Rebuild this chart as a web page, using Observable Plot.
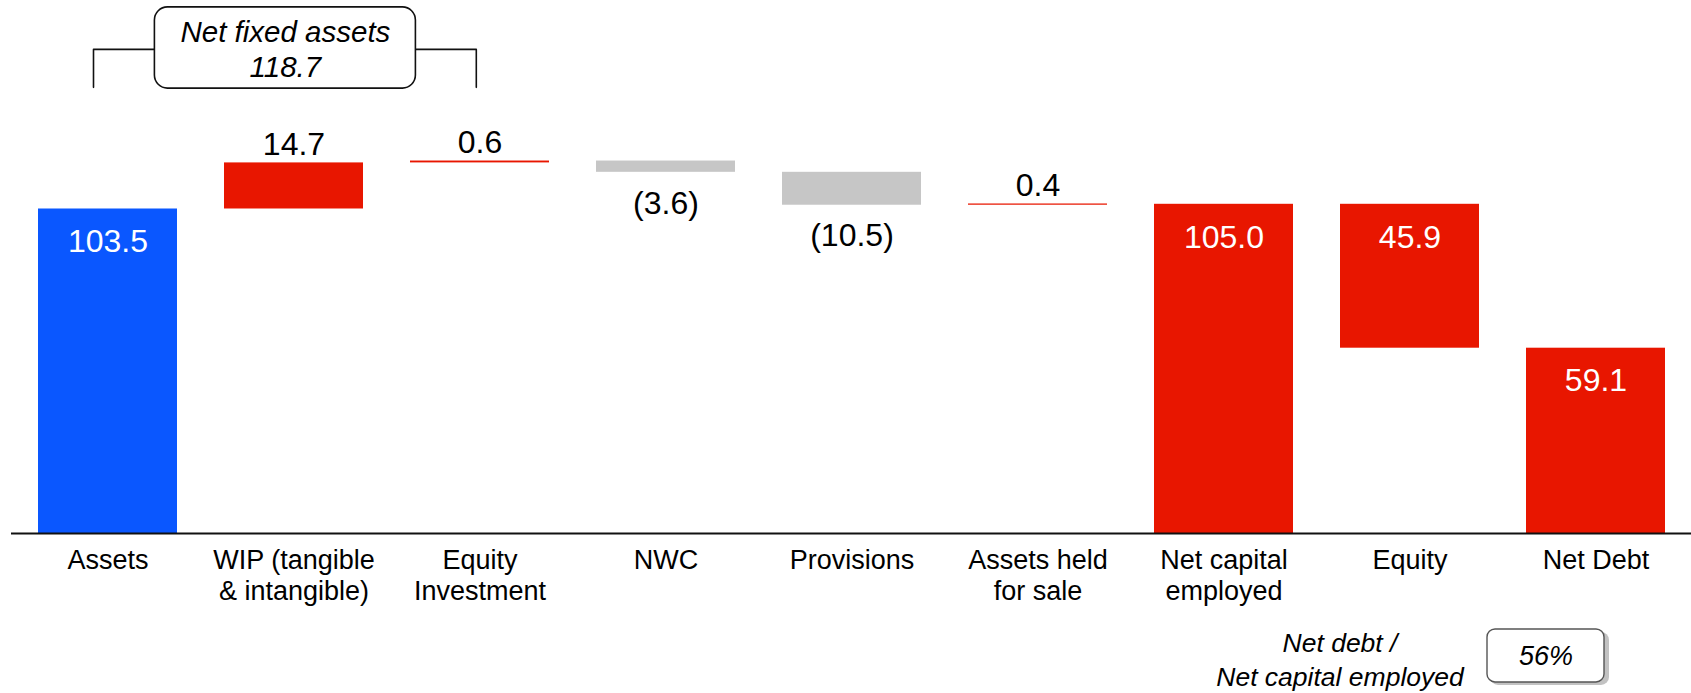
<!DOCTYPE html>
<html>
<head>
<meta charset="utf-8">
<script src="https://cdn.jsdelivr.net/npm/d3@7"></script>
<script src="https://cdn.jsdelivr.net/npm/@observablehq/plot@0.6"></script>
<style>
  html, body { margin: 0; padding: 0; background: #fff; }
  svg { display: block; }
</style>
</head>
<body>
<div id="chart"></div>
<script>
// ---- Data ----
const categories = ["Assets", "WIP", "Equity Investment", "NWC", "Provisions",
  "Assets held for sale", "Net capital employed", "Equity", "Net Debt"];
const tickLabels = ["Assets", "WIP (tangible\n& intangible)", "Equity\nInvestment", "NWC",
  "Provisions", "Assets held\nfor sale", "Net capital\nemployed", "Equity", "Net Debt"];
const values = [103.5, 14.7, 0.6, -3.6, -10.5, 0.4, 105.0, 45.9, 59.1];
const steps = ["total", "delta", "delta", "delta", "delta", "delta", "total", "down", "total"];
const valueLabels = ["103.5", "14.7", "0.6", "(3.6)", "(10.5)", "0.4", "105.0", "45.9", "59.1"];

const bracketSpan = ["Assets", "Equity Investment"];
const bracketText = "Net fixed assets\n118.7";
const ratioLabel = "Net debt /\nNet capital employed";
const ratioValue = "56%";

// ---- Build waterfall rows ----
const rows = [];
let running = 0;
categories.forEach((c, i) => {
  const v = values[i], s = steps[i];
  let y1, y2, kind;
  if (s === "total") { y1 = 0; y2 = v; running = v; kind = i === 0 ? "start" : "total"; }
  else if (s === "delta") { y1 = running; y2 = running + v; running = y2; kind = v < 0 ? "decrease" : "increase"; }
  else { y1 = running - v; y2 = running; running = y1; kind = "total"; }
  rows.push({category: c, y1, y2, top: Math.max(y1, y2), bottom: Math.min(y1, y2),
    label: valueLabels[i], kind, step: s});
});
const inside = rows.filter(d => d.step !== "delta");
const above = rows.filter(d => d.step === "delta" && d.kind === "increase");
const below = rows.filter(d => d.step === "delta" && d.kind === "decrease");

// annotation anchors (in value units)
const bracketTop = 154.4, bracketBottom = 142.3;
const boxTop = 167.8, boxBottom = 141.9;
const ratioTop = -30.6, ratioBottom = -47.5;

const font = "'Liberation Sans', Arial, Helvetica, sans-serif";

const chart = Plot.plot({
  width: 1691,
  height: 693,
  marginLeft: 11,
  marginRight: 0,
  marginTop: 0,
  marginBottom: 160,
  style: {fontFamily: font, background: "#fff", color: "#000", overflow: "visible"},
  x: {domain: categories, paddingInner: 0.255, paddingOuter: 0.129, align: 0.5, label: null, axis: null},
  y: {domain: [0, 170], axis: null},
  color: {domain: ["start", "increase", "decrease", "total"],
          range: ["#0A57FF", "#E81600", "#C6C6C6", "#E81600"]},
  marks: [
    Plot.barY(rows, {x: "category", y1: "y1", y2: "y2", fill: "kind"}),
    Plot.ruleY([0], {stroke: "#111", strokeWidth: 2}),
    Plot.axisX({tickSize: 0, tickPadding: 13, fontSize: 27, lineHeight: 1.16,
      tickFormat: d => tickLabels[categories.indexOf(d)], label: null}),
    Plot.text(inside, {x: "category", y: "top", text: "label", dy: 33, fill: "white", fontSize: 32}),
    Plot.text(above, {x: "category", y: "top", text: "label", dy: -18, fill: "black", fontSize: 32}),
    Plot.text(below, {x: "category", y: "bottom", text: "label", dy: 31, fill: "black", fontSize: 32}),

    // bracket "Net fixed assets"
    Plot.line([{x: bracketSpan[0], y: bracketBottom}, {x: bracketSpan[0], y: bracketTop}, {x: "WIP", y: bracketTop}],
      {x: "x", y: "y", stroke: "#111", strokeWidth: 1.6, dx: -14.5}),
    Plot.line([{x: bracketSpan[1], y: bracketBottom}, {x: bracketSpan[1], y: bracketTop}, {x: "WIP", y: bracketTop}],
      {x: "x", y: "y", stroke: "#111", strokeWidth: 1.6, dx: -3.7}),
    Plot.barY([{x: "WIP", y1: boxBottom, y2: boxTop}],
      {x: "x", y1: "y1", y2: "y2", fill: "white", stroke: "#111", strokeWidth: 1.6, rx: 13,
       insetLeft: -61, insetRight: -61, dx: -8.6}),
    Plot.text([{x: "WIP", y: (boxTop + boxBottom) / 2, t: bracketText}],
      {x: "x", y: "y", text: "t", fontSize: 29.5, fontStyle: "italic", lineHeight: 1.2, dx: -8.6, fill: "black"}),

    // ratio box
    Plot.barY([{x: "Net Debt", y1: ratioBottom, y2: ratioTop}],
      {x: "x", y1: "y1", y2: "y2", fill: "#9a9a9a", fillOpacity: 0.6, rx: 8,
       insetLeft: 10, insetRight: 10, dx: -46, dy: 3}),
    Plot.barY([{x: "Net Debt", y1: ratioBottom, y2: ratioTop}],
      {x: "x", y1: "y1", y2: "y2", fill: "white", stroke: "#555", strokeWidth: 1.4, rx: 8,
       insetLeft: 11, insetRight: 11, dx: -50}),
    Plot.text([{x: "Net Debt", y: (ratioTop + ratioBottom) / 2, t: ratioValue}],
      {x: "x", y: "y", text: "t", fontSize: 27, fontStyle: "italic", dx: -50, fill: "black"}),
    Plot.text([{x: "Equity", y: -39.8, t: ratioLabel}],
      {x: "x", y: "y", text: "t", fontSize: 26.5, fontStyle: "italic", lineHeight: 1.27, dx: -70, fill: "black"})
  ]
});
document.getElementById("chart").appendChild(chart);
</script>
</body>
</html>
